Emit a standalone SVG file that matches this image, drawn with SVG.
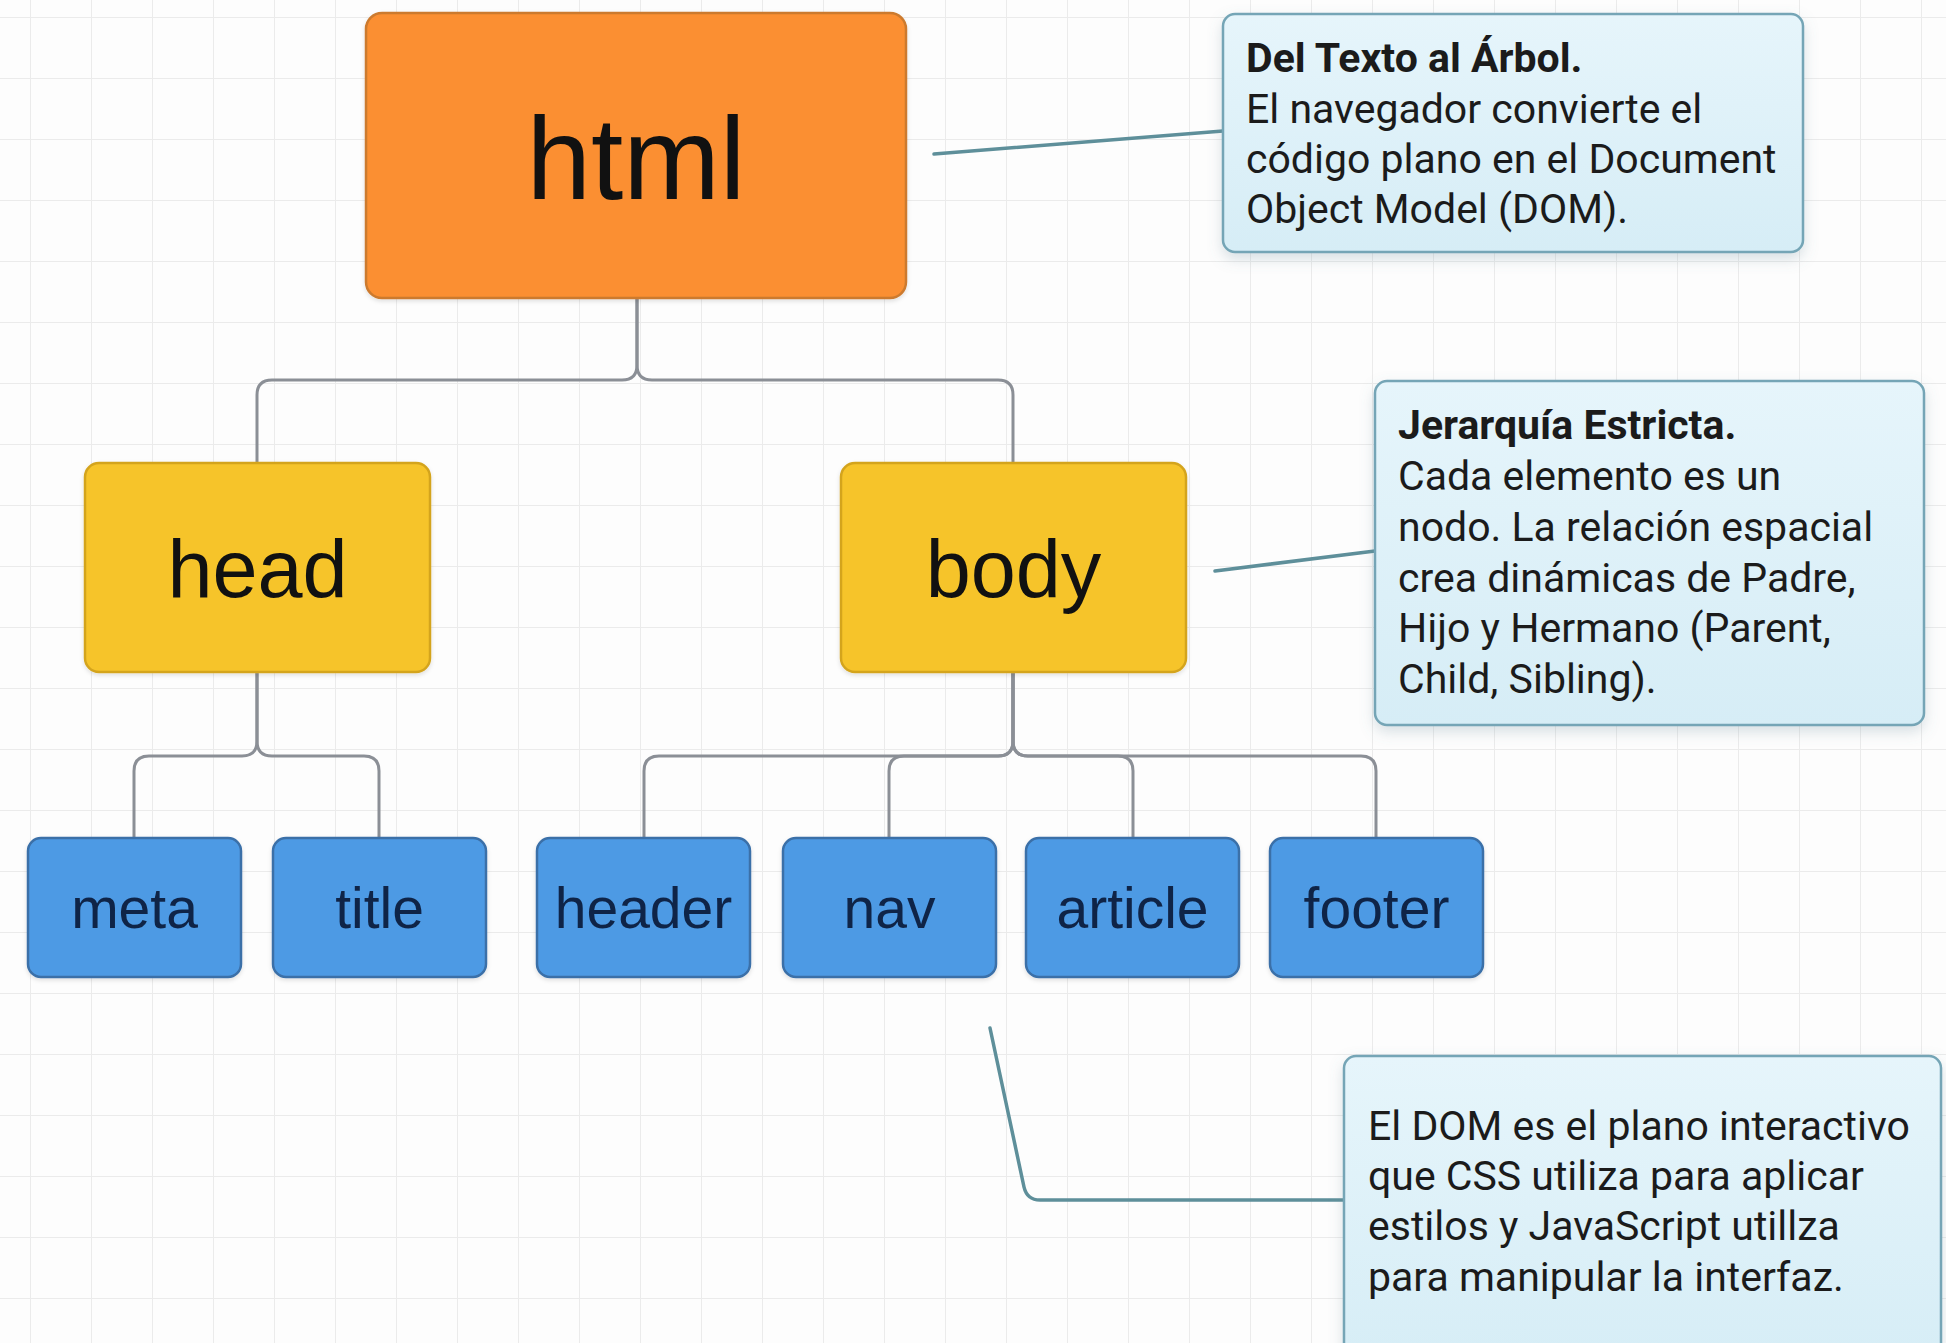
<svg xmlns="http://www.w3.org/2000/svg" width="1946" height="1343" viewBox="0 0 1946 1343">
<defs>
  <pattern id="grid" x="30" y="17" width="61" height="61" patternUnits="userSpaceOnUse">
    <path d="M0,0 V61 M0,0 H61" fill="none" stroke="#ebebeb" stroke-width="2"/>
  </pattern>
  <linearGradient id="noteFill" x1="0" y1="0" x2="0" y2="1">
    <stop offset="0" stop-color="#e6f5fb"/>
    <stop offset="1" stop-color="#d6edf6"/>
  </linearGradient>
  <filter id="shadow" x="-10%" y="-10%" width="120%" height="130%">
    <feDropShadow dx="0" dy="6" stdDeviation="7" flood-color="#6a8a99" flood-opacity="0.25"/>
  </filter>
  <filter id="nshadow" x="-10%" y="-10%" width="120%" height="130%">
    <feDropShadow dx="0" dy="2" stdDeviation="2" flood-color="#000" flood-opacity="0.12"/>
  </filter>
  <style>
    .tree { fill: none; stroke: #8b8f96; stroke-width: 3; stroke-linejoin: round; }
    .lead { fill: none; stroke: #5e8f9a; stroke-width: 3.5; stroke-linecap: round; }
    .orange { fill: #fb8f30; stroke: #cc7a2e; stroke-width: 2.5; filter: url(#nshadow); }
    .yellow { fill: #f6c42a; stroke: #d4a41f; stroke-width: 2.5; filter: url(#nshadow); }
    .blue { fill: #4e9ae4; stroke: #3a6fa8; stroke-width: 2.5; filter: url(#nshadow); }
    .note { fill: url(#noteFill); stroke: #74a5b6; stroke-width: 2.5; filter: url(#shadow); }
    .lbl { font-family: "Liberation Sans", Arial, sans-serif; text-anchor: middle; fill: #111; }
    .blbl { font-family: "Liberation Sans", Arial, sans-serif; text-anchor: middle; fill: #0f2447; font-size: 57px; }
    .ntxt { font-family: Roboto, "Liberation Sans", sans-serif; font-size: 41px; fill: #1b1b1b; }
    .ntitle { font-weight: bold; }
  </style>
</defs>

<rect x="0" y="0" width="1946" height="1343" fill="#fdfdfd"/>
<rect x="0" y="0" width="1946" height="1343" fill="url(#grid)"/>

<g id="connectors">
  <path class="tree" d="M637,298 V365 Q637,380 622,380 H272 Q257,380 257,395 V463"/>
  <path class="tree" d="M637,298 V365 Q637,380 652,380 H998 Q1013,380 1013,395 V463"/>
  <path class="tree" d="M257,672 V741 Q257,756 242,756 H149 Q134,756 134,771 V838"/>
  <path class="tree" d="M257,672 V741 Q257,756 272,756 H364 Q379,756 379,771 V838"/>
  <path class="tree" d="M1013,672 V741 Q1013,756 998,756 H659 Q644,756 644,771 V838"/>
  <path class="tree" d="M1013,672 V741 Q1013,756 998,756 H904 Q889,756 889,771 V838"/>
  <path class="tree" d="M1013,672 V741 Q1013,756 1028,756 H1118 Q1133,756 1133,771 V838"/>
  <path class="tree" d="M1013,672 V741 Q1013,756 1028,756 H1361 Q1376,756 1376,771 V838"/>
  <path class="lead" d="M934,154 L1223,131"/>
  <path class="lead" d="M1215,571 L1375,551"/>
  <path class="lead" d="M990,1028 L1024,1187 Q1027,1200 1040,1200 H1344"/>
</g>

<g id="node-html">
  <rect class="orange" x="366" y="13" width="540" height="285" rx="16"/>
  <text class="lbl" x="636" y="199" font-size="116">html</text>
</g>
<g id="node-head">
  <rect class="yellow" x="85" y="463" width="345" height="209" rx="14"/>
  <text class="lbl" x="257.5" y="597" font-size="81">head</text>
</g>
<g id="node-body">
  <rect class="yellow" x="841" y="463" width="345" height="209" rx="14"/>
  <text class="lbl" x="1013.5" y="597" font-size="81">body</text>
</g>
<g id="node-meta">
  <rect class="blue" x="28" y="838" width="213" height="139" rx="13"/>
  <text class="blbl" x="134.5" y="928">meta</text>
</g>
<g id="node-title">
  <rect class="blue" x="273" y="838" width="213" height="139" rx="13"/>
  <text class="blbl" x="379.5" y="928">title</text>
</g>
<g id="node-header">
  <rect class="blue" x="537" y="838" width="213" height="139" rx="13"/>
  <text class="blbl" x="643.5" y="928">header</text>
</g>
<g id="node-nav">
  <rect class="blue" x="783" y="838" width="213" height="139" rx="13"/>
  <text class="blbl" x="889.5" y="928">nav</text>
</g>
<g id="node-article">
  <rect class="blue" x="1026" y="838" width="213" height="139" rx="13"/>
  <text class="blbl" x="1132.5" y="928">article</text>
</g>
<g id="node-footer">
  <rect class="blue" x="1270" y="838" width="213" height="139" rx="13"/>
  <text class="blbl" x="1376.5" y="928">footer</text>
</g>

<g id="note-arbol">
  <rect class="note" x="1223" y="14" width="580" height="238" rx="12"/>
  <text class="ntxt" x="1246">
    <tspan class="ntitle" x="1246" y="72">Del Texto al Árbol.</tspan>
    <tspan x="1246" y="123">El navegador convierte el</tspan>
    <tspan x="1246" y="173">código plano en el Document</tspan>
    <tspan x="1246" y="223">Object Model (DOM).</tspan>
  </text>
</g>
<g id="note-jerarquia">
  <rect class="note" x="1375" y="381" width="549" height="344" rx="12"/>
  <text class="ntxt" x="1398">
    <tspan class="ntitle" x="1398" y="439">Jerarquía Estricta.</tspan>
    <tspan x="1398" y="490">Cada elemento es un</tspan>
    <tspan x="1398" y="541">nodo. La relación espacial</tspan>
    <tspan x="1398" y="592">crea dinámicas de Padre,</tspan>
    <tspan x="1398" y="642">Hijo y Hermano (Parent,</tspan>
    <tspan x="1398" y="693">Child, Sibling).</tspan>
  </text>
</g>
<g id="note-dom">
  <rect class="note" x="1344" y="1056" width="597" height="310" rx="12"/>
  <text class="ntxt" x="1368">
    <tspan x="1368" y="1140">El DOM es el plano interactivo</tspan>
    <tspan x="1368" y="1190">que CSS utiliza para aplicar</tspan>
    <tspan x="1368" y="1240">estilos y JavaScript utillza</tspan>
    <tspan x="1368" y="1291">para manipular la interfaz.</tspan>
  </text>
</g>
</svg>
